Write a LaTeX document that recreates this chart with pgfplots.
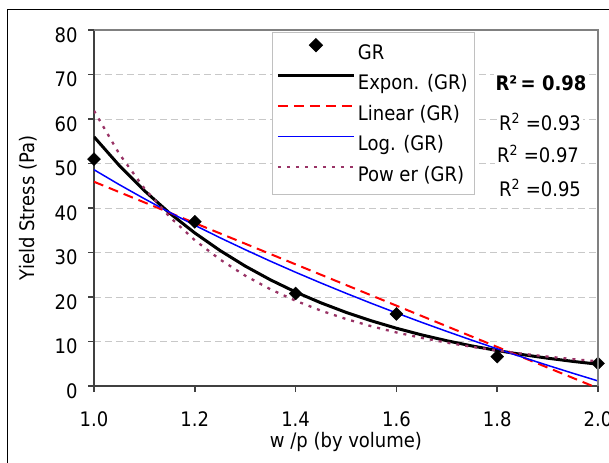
\documentclass[border=0pt]{standalone}
\usepackage{fontspec}
\setmainfont{DejaVu Sans Condensed}
\usepackage{pgfplots}
\pgfplotsset{compat=1.18}
\definecolor{plum}{HTML}{993366}
\definecolor{gridgray}{HTML}{C8C8C8}
\definecolor{axgray}{HTML}{404040}
\definecolor{boxgray}{HTML}{808080}
\definecolor{leggray}{HTML}{C0C0C0}
\newcommand\cf{\fontsize{20bp}{24bp}\selectfont}

\begin{document}
\begin{tikzpicture}
\useasboundingbox (-94bp,-77bp) rectangle (515bp,386bp);
\clip (-94bp,-77bp) rectangle (515bp,386bp);
\draw[black, line width=1bp] (-86bp,376bp) rectangle (700bp,-200bp);
\begin{axis}[
  at={(0,0)}, anchor=south west,
  scale only axis, width=504bp, height=356bp,
  xmin=1, xmax=2, ymin=0, ymax=80,
  xtick={1,1.2,1.4,1.6,1.8,2},
  ytick={0,10,20,30,40,50,60,70,80},
  axis lines=left,
  axis line style={-, draw=axgray, line width=1.5bp},
  tick style={draw=axgray, line width=1.5bp},
  tick align=outside, major tick length=6bp,
  ymajorgrids,
  major grid style={draw=gridgray, line width=1bp, dash pattern=on 7bp off 4bp},
  /pgf/number format/assume math mode=true,
  tick label style={font=\cf, black},
  xticklabel style={yshift=-16bp, /pgf/number format/fixed, /pgf/number format/fixed zerofill, /pgf/number format/precision=1},
  yticklabel style={xshift=-7bp, yshift=-5bp},
  xlabel={w /p (by volume)}, ylabel={Yield Stress (Pa)},
  label style={font=\cf},
  xlabel style={at={(axis description cs:0.5,-0.158)}, anchor=center},
  ylabel style={at={(axis description cs:-0.13,0.5)}, anchor=center},
  legend style={
    at={(axis description cs:0.353,0.994)}, anchor=north west,
    draw=leggray, line width=1bp, fill=white,
    font=\cf, inner xsep=4bp, inner ysep=6bp, row sep=6.5bp,
    nodes={inner xsep=2.5bp, inner ysep=2bp, text height=15bp, text depth=5bp},
  },
  legend cell align=left,
  legend image code/.code={\draw[mark repeat=2,mark phase=2,#1] plot coordinates {(0bp,9bp) (38bp,9bp) (76bp,9bp)};},
]
% measured points
\addplot[only marks, mark=square*, mark size=4.6bp, mark options={rotate=45, fill=black, draw=black}]
  coordinates {(1.0,51) (1.2,36.9) (1.4,20.8) (1.6,16.2) (1.8,6.6) (2.0,5.1)};
% exponential trendline
\addplot[black, line width=3bp, mark=none] coordinates {
  (1.00,56.00) (1.05,49.57) (1.10,43.89) (1.15,38.85) (1.20,34.39) (1.25,30.45)
  (1.30,26.95) (1.35,23.86) (1.40,21.12) (1.45,18.70) (1.50,16.55) (1.55,14.66)
  (1.60,12.98) (1.65,11.49) (1.70,10.17) (1.75,9.00) (1.80,7.97) (1.85,7.06)
  (1.90,6.25) (1.95,5.53) (2.00,4.90)};
% linear trendline
\addplot[red, line width=2bp, dash pattern=on 10bp off 6bp, mark=none] coordinates {
  (1.0,45.9) (2.0,-0.5)};
% logarithmic trendline
\addplot[blue, line width=1.5bp, mark=none] coordinates {
  (1.00,48.60) (1.05,45.26) (1.10,42.08) (1.15,39.03) (1.20,36.12) (1.25,33.32)
  (1.30,30.64) (1.35,28.05) (1.40,25.56) (1.45,23.16) (1.50,20.84) (1.55,18.59)
  (1.60,16.42) (1.65,14.31) (1.70,12.27) (1.75,10.28) (1.80,8.35) (1.85,6.48)
  (1.90,4.65) (1.95,2.87) (2.00,1.14)};
% power trendline
\addplot[plum, line width=2.3bp, dash pattern=on 3bp off 6bp, mark=none] coordinates {
  (1.00,61.86) (1.05,52.19) (1.10,44.39) (1.15,38.02) (1.20,32.77) (1.25,28.43)
  (1.30,24.80) (1.35,21.74) (1.40,19.16) (1.45,16.95) (1.50,15.06) (1.55,13.44)
  (1.60,12.03) (1.65,10.81) (1.70,9.74) (1.75,8.80) (1.80,7.98) (1.85,7.25)
  (1.90,6.61) (1.95,6.04) (2.00,5.53)};
\legend{GR, Expon. (GR), Linear (GR), Log. (GR), Pow er (GR)}
\end{axis}
\draw[boxgray, line width=1.3bp] (current axis.north west) -- (current axis.north east) -- (current axis.south east);
\node[fill=white, inner sep=2bp, font=\cf\bfseries] at (447bp,303bp) {R²\,= 0.98};
\node[fill=white, inner sep=2bp, font=\cf] at (446bp,264bp) {R\textsuperscript{2} =0.93};
\node[fill=white, inner sep=2bp, font=\cf] at (444bp,232bp) {R\textsuperscript{2} =0.97};
\node[fill=white, inner sep=2bp, font=\cf] at (446bp,198bp) {R\textsuperscript{2} =0.95};
\end{tikzpicture}
\end{document}
